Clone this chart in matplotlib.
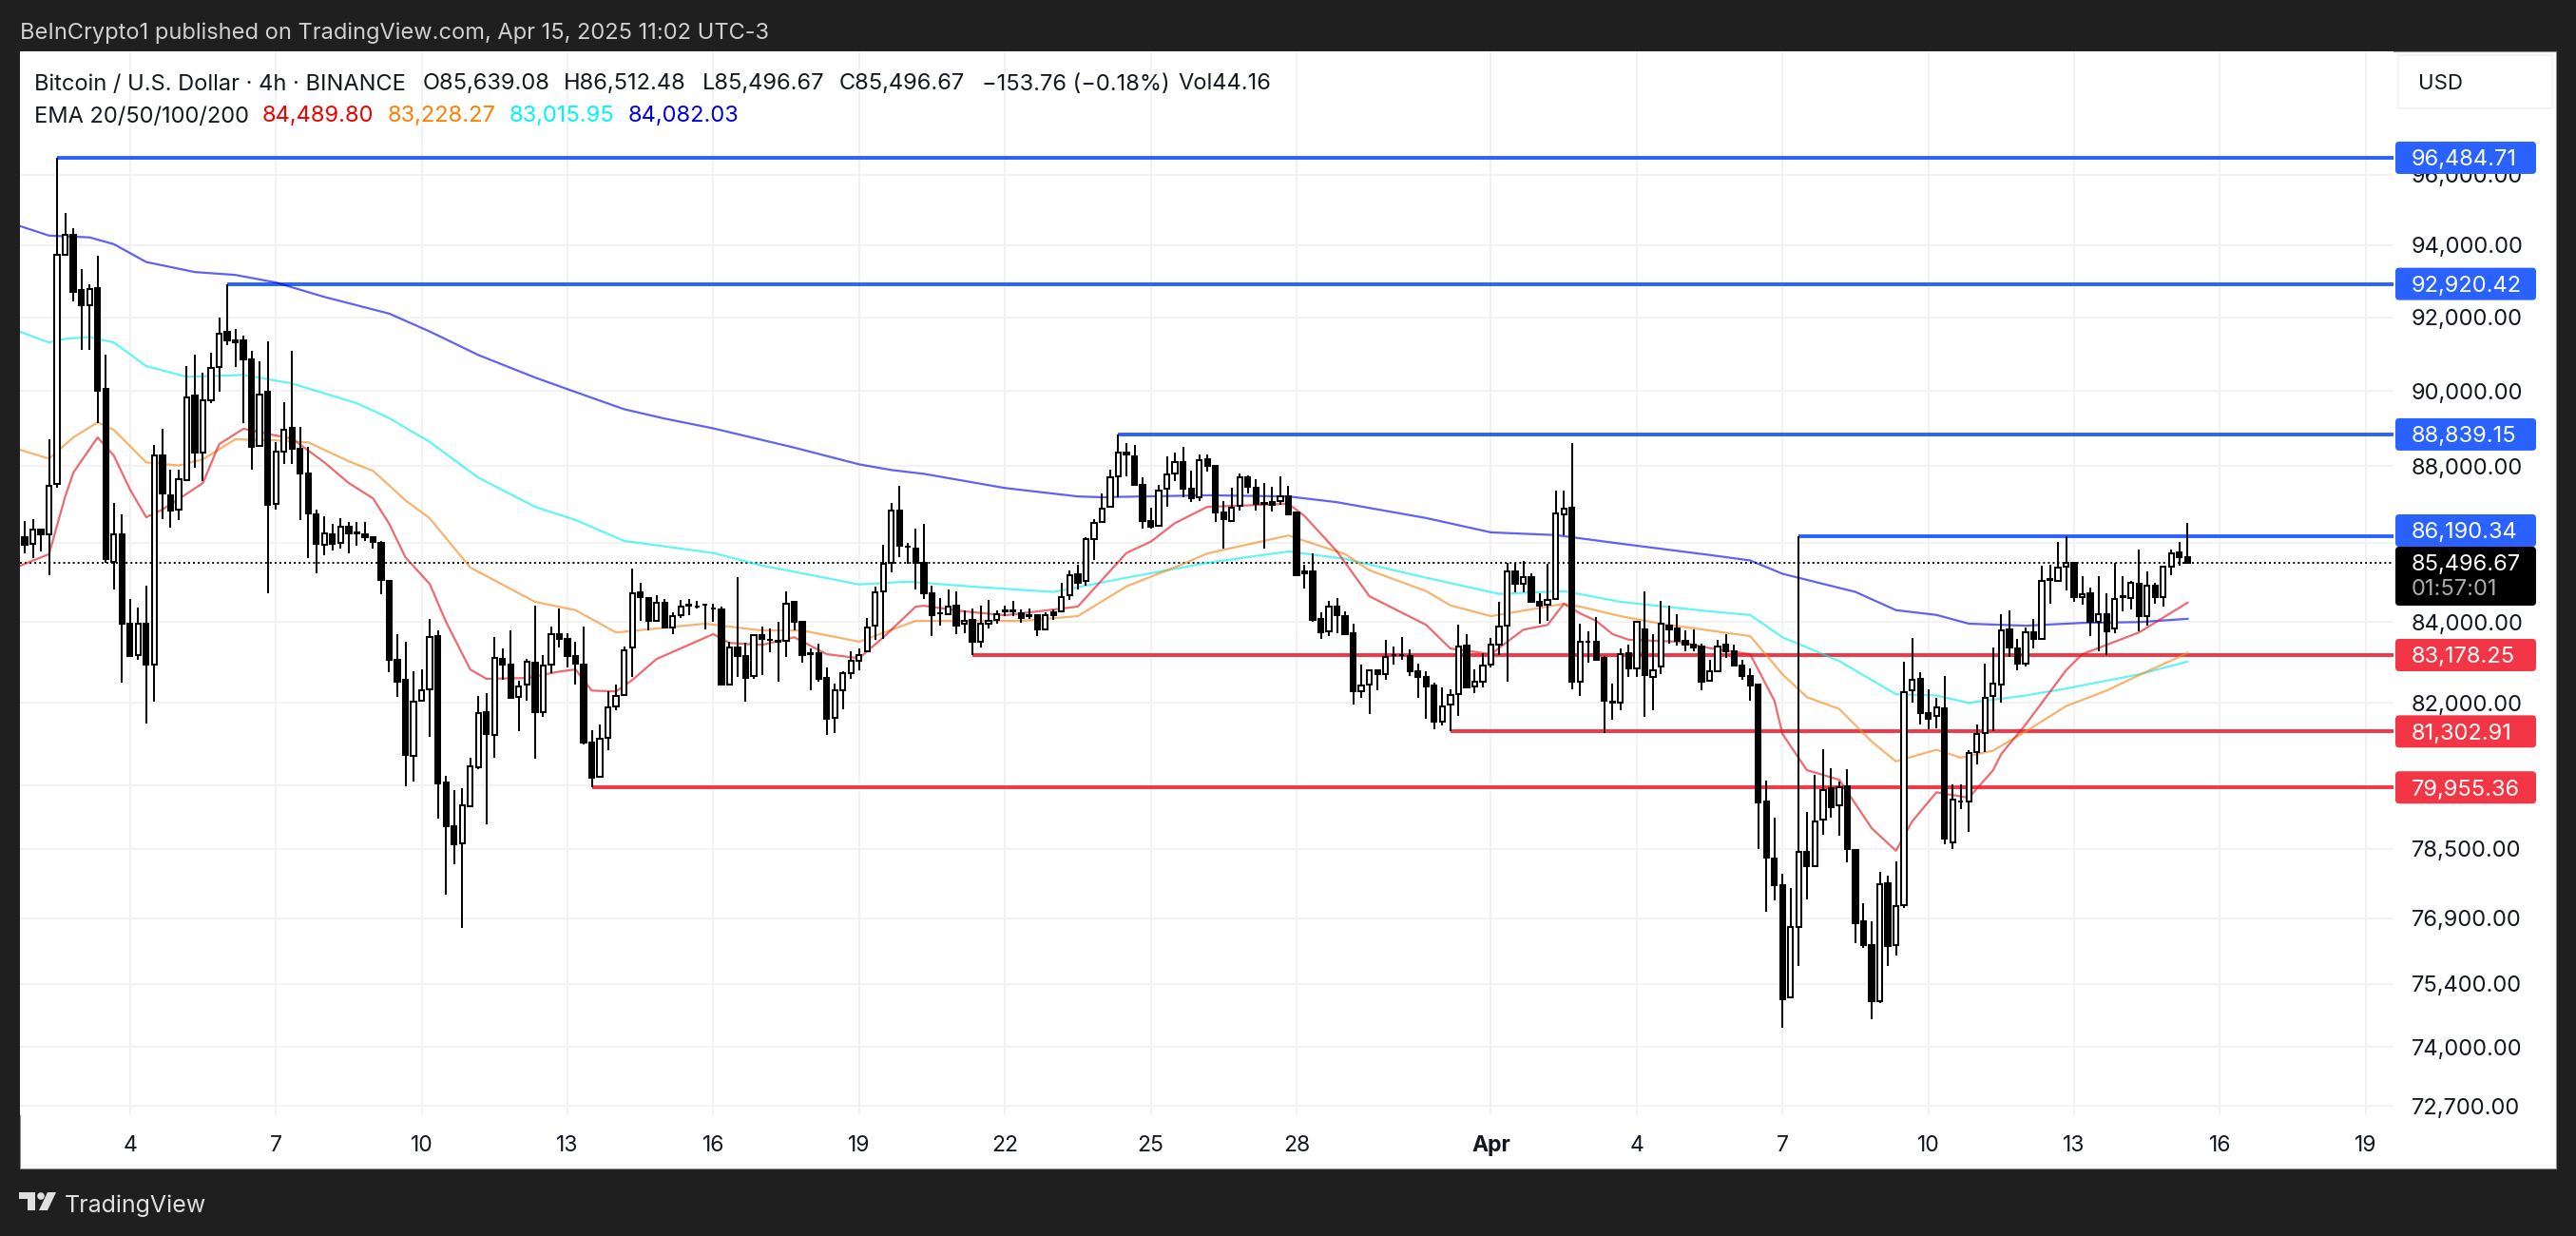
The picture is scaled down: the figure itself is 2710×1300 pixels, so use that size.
#!/usr/bin/env python3
"""BTC/USD 4h TradingView snapshot with EMAs and support/resistance levels."""

import matplotlib
matplotlib.use("Agg")
import matplotlib.pyplot as plt
from matplotlib.patches import FancyBboxPatch, Rectangle, Circle, Polygon

plt.rcParams["font.family"] = ["Inter", "DejaVu Sans"]

# ── Palette ─────────────────────────────────────────────────────────
DARK_BG = "#1F1F1F"
INK     = "#131722"
GRID    = "#F2F2F3"
BLUE    = "#2962FF"
RED     = "#F23645"
FONT    = 17

# ── Candles (4h bars) ───────────────────────────────────────────────
opens = [
    86150, 85990, 86350, 86230, 87527, 93737, 94300, 92750, 92340, 92800,
    90050, 85530, 86220, 83960, 83170, 83960, 82950, 88280, 87250, 86880,
    87630, 89870, 88370, 89760, 90635, 91590, 91370, 91380, 90860, 88540,
    89970, 87020, 88390, 89010, 88470, 87820, 86735, 85960, 86220, 86020,
    86430, 86270, 86220, 86155, 86020, 85045, 83060, 82573, 80720, 82060,
    82340, 83650, 80070, 79030, 78630, 79500, 80430, 81770, 81220, 83080,
    82940, 82140, 82440, 83000, 81770, 82940, 83700, 83580, 83160, 82940,
    81040, 80200, 81160, 81910, 82200, 83360, 84760, 84610, 84020, 84490,
    83870, 84170, 84410, 84400, 84440, 84350, 84310, 82460, 83360, 83150,
    82650, 83680, 83560, 83530, 83540, 84510, 84000, 83220, 83220, 82610,
    81640, 82320, 82720, 83040, 83280, 83910, 84780, 85490, 86850, 85920,
    85870, 85510, 84720, 84230, 84210, 84410, 83950, 84060, 83510, 83960,
    84060, 84280, 84280, 84230, 84170, 84170, 83820, 84240, 84260, 84670,
    85200, 85030, 86110, 86550, 86950, 87740, 88360, 88270, 87510, 86570,
    86460, 87410, 87810, 88100, 87400, 87200, 88190, 88000, 86790, 86570,
    86960, 87710, 87430, 87030, 87060, 87080, 87210, 86790, 85270, 85270,
    84080, 83770, 84400, 84160, 83730, 82280, 82460, 82790, 82710, 83170,
    83170, 83160, 82770, 82630, 82420, 81530, 81950, 82220, 83410, 82400,
    82520, 82940, 83440, 83910, 85290, 84970, 85130, 84520, 84430, 84570,
    86750, 86910, 82510, 83510, 83500, 83110, 82010, 82010, 83220, 82850,
    83810, 82630, 82900, 83920, 83830, 83530, 83440, 83380, 82550, 82780,
    83430, 83260, 82910, 82670, 82440, 79620, 78270, 77650, 75110, 76690,
    78430, 78100, 79200, 79930, 79520, 79990, 78470, 76820, 76280, 75020,
    77710, 76290, 77200, 82310, 82600, 81740, 81670, 81870, 78660, 79610,
    79620, 80810, 81270, 82170, 82450, 83810, 83350, 82970, 83740, 83580,
    85070, 85040, 85390, 85510, 84620, 84720, 84010, 84190, 83830, 84640,
    84610, 84960, 84140, 84920, 84640, 85410, 85770, 85639.08,
]
highs = [
    86570, 86610, 86385, 88711, 96484.71, 94900, 94480, 93330, 92900, 93700,
    90990, 87040, 86745, 84570, 84370, 84930, 88550, 89000, 87910, 87900,
    90660, 90990, 90490, 91030, 92000, 92920.42, 91690, 91490, 91090, 90800,
    91330, 88630, 89710, 91090, 89040, 88500, 86880, 86690, 86490, 86640,
    86555, 86555, 86550, 86170, 86050, 85060, 83700, 83500, 82770, 82830,
    84070, 83790, 80240, 79895, 79930, 80670, 82160, 82240, 83620, 83340,
    83790, 82550, 83080, 84410, 83180, 83900, 84350, 83730, 83510, 83900,
    81330, 81470, 82280, 82440, 83400, 85350, 84980, 84630, 84670, 84570,
    84250, 84560, 84590, 84530, 84450, 84470, 84380, 83510, 85130, 83480,
    83710, 83900, 83830, 84010, 84770, 84540, 84020, 83350, 83470, 82870,
    82470, 82780, 83260, 83350, 84100, 84900, 85950, 87030, 87480, 86000,
    86380, 86500, 84910, 84600, 84830, 84770, 84290, 84340, 84410, 84560,
    84290, 84410, 84540, 84320, 84340, 84180, 84240, 84320, 84990, 85310,
    85450, 86160, 86630, 87300, 87920, 88839.15, 88600, 88550, 87700, 86920,
    87510, 88270, 88350, 88520, 87890, 88320, 88320, 88040, 87100, 87430,
    87820, 87750, 87650, 87570, 87460, 87730, 87480, 86790, 85450, 85730,
    84250, 84530, 84610, 84270, 83950, 82930, 82810, 82810, 83550, 83400,
    83630, 83320, 82960, 82780, 82490, 82380, 82340, 83930, 83690, 82830,
    83220, 83610, 84510, 85510, 85510, 85550, 85230, 84730, 85470, 87370,
    87360, 88620, 83950, 83760, 84120, 83150, 82470, 83340, 83440, 84030,
    84770, 83690, 84530, 84410, 84200, 83790, 83810, 83460, 83060, 83550,
    83700, 83440, 83060, 82850, 82450, 80110, 79240, 77920, 77590, 86190.34,
    79370, 80260, 80870, 80410, 80090, 80390, 78510, 77240, 76820, 77960,
    77880, 78210, 83010, 83600, 82750, 82330, 82130, 82650, 80030, 80030,
    80860, 81470, 82970, 83360, 84210, 84290, 83580, 83870, 84070, 85430,
    85450, 86030, 86190, 85510, 85150, 84870, 85170, 84730, 85510, 85150,
    85030, 85850, 85270, 84990, 85400, 85850, 86030, 86512.48,
]
lows = [
    85730, 85630, 85780, 85184, 87430, 93737, 92450, 91120, 91120, 89150,
    85500, 84820, 82500, 83140, 83060, 81500, 82030, 86630, 86390, 86600,
    87600, 87960, 87615, 89670, 89970, 91240, 90650, 89130, 87920, 88520,
    84730, 86880, 88070, 88070, 86600, 85620, 85220, 85690, 85810, 85860,
    85740, 85930, 86070, 85860, 84690, 82765, 82150, 79990, 80090, 82020,
    81180, 79210, 77430, 78150, 76670, 79480, 80390, 79080, 80670, 82570,
    82100, 81310, 82060, 80640, 81650, 82730, 83360, 82860, 82440, 80990,
    79955.36, 80180, 80850, 81810, 82180, 82640, 84020, 83790, 84010, 83850,
    83700, 84100, 84180, 84330, 83810, 84010, 82420, 82420, 82640, 82040,
    82590, 82690, 83240, 82520, 83140, 83790, 83000, 82300, 82530, 81220,
    81260, 81850, 82590, 82790, 83270, 83550, 83590, 85250, 85650, 85470,
    84830, 84590, 83650, 83920, 84180, 83710, 83720, 83178.25, 83360, 83830,
    83960, 84140, 84140, 83980, 84090, 83660, 83790, 84060, 84250, 84560,
    84810, 84930, 85570, 86520, 86930, 87180, 87740, 87480, 86380, 86370,
    86440, 86950, 87610, 87180, 87060, 87100, 87850, 86540, 85870, 86550,
    86850, 87280, 86850, 85860, 86830, 86980, 86730, 85150, 84850, 84000,
    83570, 83660, 83730, 83690, 81970, 82130, 81720, 82310, 82570, 82930,
    83050, 82650, 82130, 81600, 81350, 81450, 81302.91, 81690, 82380, 82240,
    82390, 82860, 83180, 82530, 84750, 84750, 84490, 83950, 84040, 84550,
    86200, 82340, 82180, 82990, 83040, 81260, 81580, 81810, 82630, 82630,
    81660, 81830, 82700, 83460, 83410, 83280, 83280, 82320, 82530, 82770,
    83100, 82900, 82560, 82060, 78510, 77050, 77310, 74430, 75070, 75800,
    77330, 78090, 78830, 79240, 78810, 78180, 76320, 76220, 74610, 74980,
    75800, 76050, 77120, 82000, 81470, 81360, 81380, 78600, 78490, 79430,
    78910, 80500, 80810, 81320, 82000, 83130, 82810, 82900, 83350, 83560,
    84470, 85010, 84800, 84510, 84430, 83650, 83280, 83180, 83730, 84280,
    84310, 83770, 83920, 84450, 84400, 85190, 85420, 85496.67,
]
closes = [
    85950, 86345, 86230, 87494, 93737, 94300, 92710, 92340, 92770, 90000,
    85590, 86220, 83960, 83160, 83960, 82930, 88280, 87300, 86850, 87665,
    89816, 88370, 89740, 90620, 91555, 91360, 91310, 90840, 88520, 89910,
    87000, 88380, 88960, 88470, 87800, 86775, 85985, 86260, 85990, 86420,
    86260, 86260, 86155, 86040, 85060, 83060, 82510, 80735, 82040, 82320,
    83620, 80050, 79030, 78600, 79520, 80450, 81750, 81230, 83100, 82940,
    82120, 82400, 83020, 81770, 82910, 83690, 83580, 83160, 82970, 81040,
    80180, 81120, 81890, 82170, 83300, 84730, 84630, 84020, 84490, 83870,
    84150, 84400, 84440, 84400, 84440, 84330, 82450, 83360, 83160, 82610,
    83680, 83590, 83550, 83520, 84460, 84000, 83180, 83210, 82600, 81620,
    82320, 82730, 83030, 83180, 83870, 84740, 85470, 86850, 85940, 85900,
    85510, 84720, 84180, 84220, 84400, 83910, 84040, 83510, 83970, 84030,
    84200, 84290, 84290, 84100, 84150, 83810, 84180, 84180, 84640, 85190,
    84990, 86100, 86520, 86900, 87710, 88350, 88300, 87510, 86570, 86430,
    87360, 87780, 88100, 87400, 87160, 88150, 88000, 86790, 86610, 86910,
    87700, 87450, 87020, 87020, 86980, 87220, 86750, 85190, 85230, 84060,
    83750, 84400, 84180, 83710, 82280, 82420, 82790, 82710, 83120, 83170,
    83170, 82770, 82630, 82400, 81540, 81920, 82200, 83400, 82390, 82510,
    82910, 83440, 83890, 85290, 84960, 85130, 84520, 84410, 84560, 86770,
    86900, 82530, 83500, 83520, 83070, 82050, 82020, 83200, 82850, 84010,
    82690, 82810, 83960, 83820, 83530, 83440, 83360, 82530, 82770, 83400,
    83260, 82910, 82670, 82430, 79600, 78290, 77650, 75060, 76690, 78430,
    78100, 79150, 79900, 79480, 79970, 78490, 76790, 76280, 75020, 77690,
    76250, 77170, 82260, 82570, 81740, 81600, 81890, 78750, 79670, 79620,
    80790, 81230, 82130, 82480, 83800, 83370, 82970, 83740, 83580, 85050,
    85080, 85370, 85490, 84620, 84710, 84000, 84190, 83770, 84570, 84650,
    84990, 84140, 84920, 84620, 85390, 85750, 85650, 85496.67,
]

# ── EMAs, read at the bars where the line visibly bends ─────────────
ema20_bars = [-1, 3, 5, 6, 9, 11, 13, 15, 17, 19, 22, 24, 27, 31, 33, 37, 40, 43, 45, 47,
              50, 52, 55, 57, 62, 66, 68, 70, 73, 75, 78, 85, 87, 91, 95, 99, 103, 106,
              110, 111, 116, 121, 130, 136, 139, 142, 146, 150, 156, 158, 162, 166, 173,
              176, 181, 185, 188, 190, 192, 194, 196, 198, 204, 208, 213, 216, 217, 220,
              224, 228, 231, 233, 236, 240, 243, 244, 247, 252, 254, 261, 267]
ema20 = [85390, 85720, 87210, 87830, 88760, 88280, 87390, 86670, 86870, 87140, 87560, 88580,
         88990, 88810, 88730, 88100, 87560, 87160, 86500, 85640, 84960, 84010, 82820, 82590,
         82610, 82770, 82820, 82300, 82280, 82560, 83080, 83700, 83480, 83430, 83620, 83200,
         83100, 83620, 84390, 84410, 84270, 84170, 84390, 85750, 86040, 86520, 86940, 86970,
         87020, 86700, 85790, 84650, 83930, 83340, 83200, 83810, 83930, 84460, 84220, 84030,
         83700, 83560, 83510, 83350, 83200, 82050, 81240, 80370, 80140, 78990, 78460, 79150,
         79840, 79710, 80370, 80760, 81470, 82800, 83200, 83740, 84489.80]
ema50_bars = [-1, 3, 6, 9, 11, 15, 19, 22, 26, 31, 35, 40, 43, 47, 50, 55, 63, 68, 73, 84,
              91, 96, 103, 110, 123, 130, 136, 143, 146, 156, 163, 166, 173, 176, 181, 190,
              192, 197, 202, 208, 213, 217, 220, 224, 228, 231, 236, 239, 243, 247, 252,
              257, 261, 267]
ema50 = [88460, 88200, 88760, 89160, 88960, 88100, 88020, 88180, 88710, 88680, 88630, 88130,
         87880, 87110, 86640, 85380, 84510, 84300, 83740, 83960, 83790, 83790, 83510, 84030,
         84030, 84150, 84900, 85470, 85740, 86200, 85720, 85310, 84780, 84420, 84150, 84460,
         84390, 84150, 83960, 83790, 83650, 82700, 82140, 81850, 81060, 80580, 80860, 80670,
         80840, 81300, 81920, 82300, 82680, 83228.27]
ema100_bars = [-1, 3, 5, 8, 11, 15, 20, 27, 33, 41, 45, 50, 56, 63, 68, 74, 85, 91, 103, 109,
               118, 127, 136, 146, 156, 163, 173, 182, 190, 197, 208, 213, 217, 224, 231,
               236, 240, 247, 252, 261, 267]
ema100 = [91640, 91310, 91410, 91460, 91310, 90670, 90380, 90430, 90200, 89670, 89270, 88640,
          87700, 86940, 86600, 86060, 85750, 85430, 84950, 85020, 84880, 84760, 85120, 85500,
          85790, 85600, 85120, 84710, 84780, 84510, 84270, 84180, 83620, 83030, 82210, 82180,
          82000, 82180, 82350, 82700, 83015.95]
ema200_bars = [-1, 3, 8, 11, 15, 21, 26, 31, 37, 45, 50, 56, 63, 68, 74, 79, 85, 95, 103, 107,
               111, 121, 130, 133, 146, 156, 162, 173, 181, 189, 197, 208, 213, 217, 226,
               231, 236, 240, 247, 254, 261, 267]
ema200 = [94570, 94270, 94220, 94030, 93530, 93250, 93170, 92960, 92560, 92100, 91610, 90970,
          90360, 89970, 89510, 89260, 89000, 88490, 88050, 87900, 87800, 87430, 87210, 87190,
          87240, 87210, 87060, 86650, 86280, 86210, 85990, 85700, 85560, 85220, 84760, 84300,
          84180, 83960, 83910, 83980, 84000, 84082.03]

# ── Levels: price and the bar each line starts from ─────────────────
blue_levels = [96484.71, 92920.42, 88839.15, 86190.34]
blue_starts = [4, 25, 135, 219]
red_levels  = [83178.25, 81302.91, 79955.36]
red_starts  = [117, 176, 70]
last_price  = 85496.67

# ── Axes labels ─────────────────────────────────────────────────────
price_ticks = [96000, 94000, 92000, 90000, 88000, 86000, 84000, 82000, 80000,
               78500, 76900, 75400, 74000, 72700]
hidden_ticks = [86000, 80000]  # sit behind the price tags in the original
date_bars   = [13, 31, 49, 67, 85, 103, 121, 139, 157, 181, 199, 217, 235, 253, 271, 289]
date_labels = ["4", "7", "10", "13", "16", "19", "22", "25", "28", "Apr",
               "4", "7", "10", "13", "16", "19"]

W, H = 2710, 1300
PANE_L, PANE_R, PANE_T, PANE_B = 20.6, 2518, 54, 1173
BAR_PX = 8.522

fig = plt.figure(figsize=(W / 100, H / 100), dpi=100)
fig.patch.set_facecolor(DARK_BG)

# white sheet behind pane and scales
bg = fig.add_axes([0, 0, 1, 1], zorder=0)
bg.set_xlim(0, W)
bg.set_ylim(H, 0)
bg.axis("off")
bg.add_patch(Rectangle((20.6, 54), 2668.4, 1175, facecolor="white",
                       edgecolor="#8A8A8A", linewidth=0.8))

ax = fig.add_axes([PANE_L / W, (H - PANE_B) / H, (PANE_R - PANE_L) / W, (PANE_B - PANE_T) / H],
                  zorder=1)
ax.set_facecolor("white")
ax.set_yscale("log")
ax.set_ylim(72504, 99599)
ax.set_xlim((PANE_L - 26) / BAR_PX, (PANE_R - 26) / BAR_PX)
for side in ax.spines.values():
    side.set_visible(False)

# ── Scales ──────────────────────────────────────────────────────────
ax.yaxis.tick_right()
ax.set_yticks(price_ticks)
ax.set_yticklabels(["" if p in hidden_ticks else f"{p:,.2f}" for p in price_ticks])
ax.minorticks_off()
ax.set_xticks(date_bars)
ax.set_xticklabels(date_labels)
ax.tick_params(axis="y", length=0, pad=13.5, labelsize=FONT, labelcolor=INK)
ax.tick_params(axis="x", length=0, pad=15, labelsize=16.5, labelcolor=INK)
ax.get_xticklabels()[9].set_fontweight("bold")
ax.grid(True, color=GRID, linewidth=1.4)
ax.set_axisbelow(True)

# ── Levels and last price ───────────────────────────────────────────
xmax = ax.get_xlim()[1]
ax.hlines(blue_levels, blue_starts, xmax, color=BLUE, linewidth=2.8, zorder=2)
ax.hlines(red_levels, red_starts, xmax, color=RED, linewidth=2.8, zorder=2)
ax.axhline(last_price, color="black", linewidth=1.4, linestyle=(0, (1, 1.6)), zorder=2)

# ── EMAs ────────────────────────────────────────────────────────────
ax.plot(ema200_bars, ema200, color="#0000F0", linewidth=1.6, alpha=0.62, zorder=3)
ax.plot(ema100_bars, ema100, color="#00F0F0", linewidth=1.6, alpha=0.62, zorder=3)
ax.plot(ema50_bars, ema50, color="#F58A1F", linewidth=1.6, alpha=0.65, zorder=3)
ax.plot(ema20_bars, ema20, color="#E51A22", linewidth=1.6, alpha=0.65, zorder=3)

# ── Candles ─────────────────────────────────────────────────────────
bars = list(range(len(closes)))
ax.vlines(bars, lows, highs, color="black", linewidth=1.45, zorder=4)
ax.bar(bars,
       [abs(c - o) for o, c in zip(opens, closes)],
       bottom=[min(o, c) for o, c in zip(opens, closes)],
       width=0.62,
       color=["white" if c >= o else "black" for o, c in zip(opens, closes)],
       edgecolor="black", linewidth=1.45, zorder=5)

# ── Overlay in pixel coordinates: tags, legend, header, logo ────────
ov = fig.add_axes([0, 0, 1, 1], zorder=2)
ov.set_xlim(0, W)
ov.set_ylim(H, 0)
ov.axis("off")


def price_y(price):
    """Pixel row of a price, through the pane's own log scale."""
    return H - ax.transData.transform((0, price))[1]


def tag(ytop, h, color, label, text_color="white"):
    ov.add_patch(FancyBboxPatch((2522, ytop + 2), 144, h - 4,
                                boxstyle="round,pad=2,rounding_size=4",
                                facecolor=color, edgecolor="none", zorder=3))
    ov.text(2537, ytop + h / 2, label, ha="left", va="center_baseline",
            fontsize=FONT, color=text_color, zorder=4)


for level in blue_levels[:3]:
    tag(price_y(level) - 17, 34, BLUE, f"{level:,.2f}")
tag(541, 34, BLUE, f"{blue_levels[3]:,.2f}")
ov.add_patch(FancyBboxPatch((2522, 577), 144, 58, boxstyle="round,pad=2,rounding_size=4",
                            facecolor="black", edgecolor="none", zorder=3))
ov.text(2537, 591, f"{last_price:,.2f}", va="center_baseline", fontsize=FONT, color="white", zorder=4)
ov.text(2537, 618, "01:57:01", va="center_baseline", fontsize=FONT, color="#ABABAB", zorder=4)
for level in red_levels:
    tag(price_y(level) - 17, 34, RED, f"{level:,.2f}")

# USD button
ov.add_patch(Rectangle((2523, 58), 162, 56, facecolor="white", edgecolor="#F2F2F3", linewidth=1.2))
ov.text(2568, 86, "USD", ha="center", va="center_baseline", fontsize=16, color=INK)

# chart legend rows
row1 = [(36, "Bitcoin / U.S. Dollar · 4h · BINANCE"), (445, "O85,639.08"), (593, "H86,512.48"),
        (739, "L85,496.67"), (883, "C85,496.67"), (1033, "−153.76 (−0.18%)"), (1239, "Vol44.16")]
for x, label in row1:
    ov.text(x, 86, label, va="center_baseline", fontsize=FONT, color=INK)
row2 = [(36, "EMA 20/50/100/200", INK), (276, "84,489.80", "#F00000"), (408, "83,228.27", "#FF8000"),
        (536, "83,015.95", "#00F5F5"), (661, "84,082.03", "#0000E0")]
for x, label, color in row2:
    ov.text(x, 120, label, va="center_baseline", fontsize=FONT, color=color)

# header and footer on the dark frame
ov.text(21, 32, "BeInCrypto1 published on TradingView.com, Apr 15, 2025 11:02 UTC-3",
        va="center_baseline", fontsize=FONT, color="#D0D0D0")
ov.text(68, 1266, "TradingView", va="center_baseline", fontsize=18, color="#E0E0E0")
ov.add_patch(Rectangle((20, 1254), 17, 7, facecolor="#E0E0E0", edgecolor="none"))
ov.add_patch(Rectangle((29, 1254), 8, 19, facecolor="#E0E0E0", edgecolor="none"))
ov.add_patch(Circle((43, 1258), 3.8, facecolor="#E0E0E0", edgecolor="none"))
ov.add_patch(Polygon([(50, 1254), (59, 1254), (50, 1273), (41, 1273)], facecolor="#E0E0E0", edgecolor="none"))

plt.savefig("out.png", dpi=100, facecolor=DARK_BG)
